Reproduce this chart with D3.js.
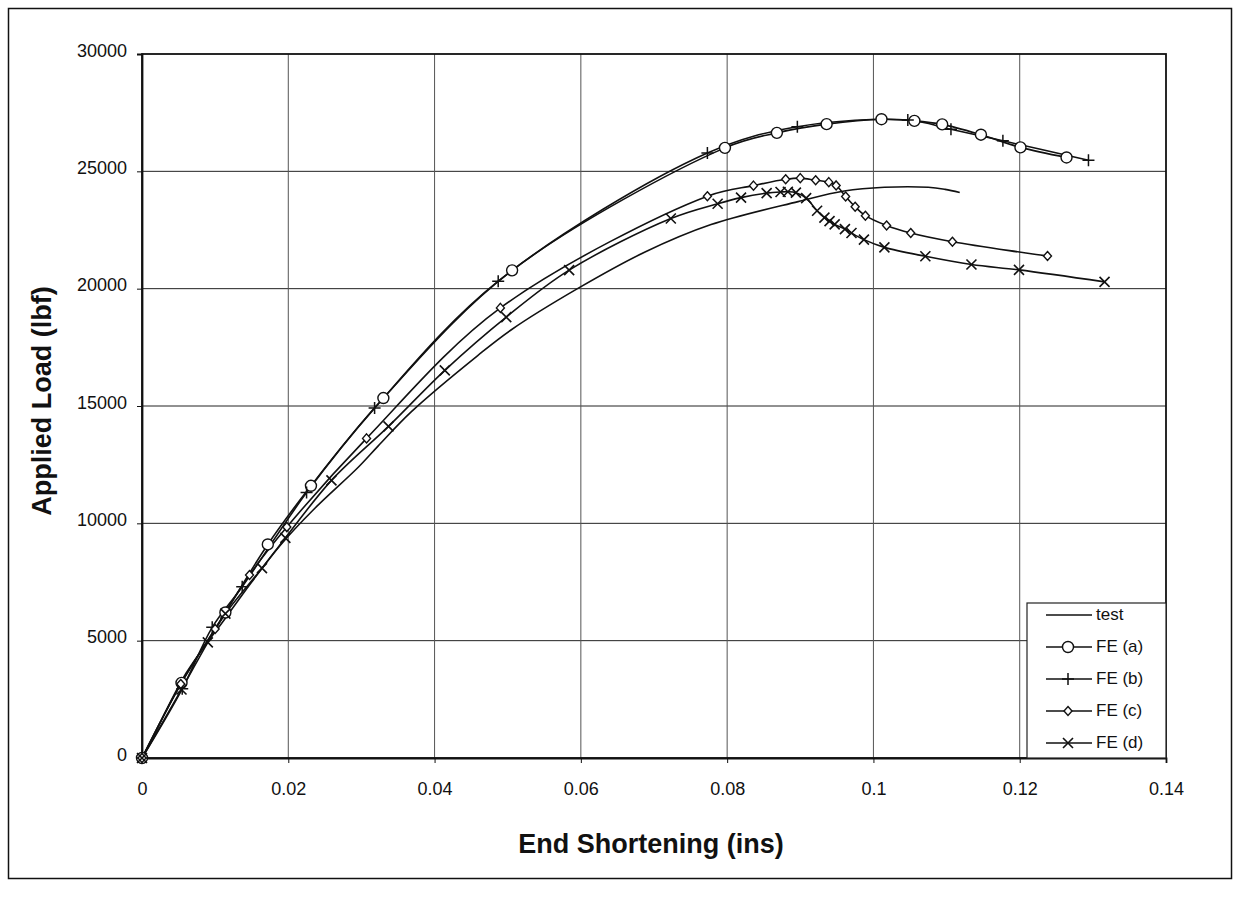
<!DOCTYPE html>
<html>
<head>
<meta charset="utf-8">
<script src="https://cdn.jsdelivr.net/npm/d3@7"></script>
<style>
  body { margin: 0; background: #fff; }
  text { font-family: Arial, "Liberation Sans", Helvetica, sans-serif; fill: #111; }
</style>
</head>
<body>
<div id="chart"></div>
<script>
// values
var testX = [0, 0.0012, 0.006, 0.0115, 0.015, 0.019, 0.0235, 0.0296, 0.0323, 0.0368, 0.0459, 0.0505, 0.0596, 0.0687, 0.0778, 0.0897, 0.096, 0.1015, 0.1075, 0.1098, 0.1118];
var testY = [0, 700, 3600, 6000, 7500, 9100, 10600, 12400, 13300, 14750, 17150, 18250, 20010, 21550, 22730, 23710, 24160, 24320, 24320, 24230, 24100];

var feaX = [0, 0.0054, 0.0114, 0.0172, 0.0231, 0.033, 0.0506, 0.0797, 0.0868, 0.0936, 0.1011, 0.1056, 0.1094, 0.1147, 0.1201, 0.1264];
var feaY = [0, 3200, 6200, 9100, 11600, 15340, 20780, 26000, 26640, 27010, 27220, 27150, 27000, 26560, 26020, 25590];

var febX = [0, 0.0055, 0.0096, 0.0137, 0.0225, 0.0318, 0.0487, 0.0773, 0.0896, 0.1047, 0.1106, 0.1177, 0.1294];
var febY = [0, 2950, 5570, 7300, 11310, 14910, 20320, 25780, 26900, 27190, 26790, 26300, 25470];

var fecX = [0, 0.0053, 0.01, 0.0147, 0.0198, 0.0307, 0.049, 0.0773, 0.0836, 0.088, 0.09, 0.0921, 0.0939, 0.0949, 0.0962, 0.0975, 0.0989, 0.1018, 0.1051, 0.1108, 0.1238];
var fecY = [0, 3150, 5500, 7800, 9840, 13620, 19180, 23940, 24390, 24660, 24710, 24620, 24540, 24400, 23930, 23490, 23110, 22690, 22370, 22000, 21390];

var fedX = [0, 0.0054, 0.009, 0.0114, 0.0164, 0.0196, 0.0259, 0.0337, 0.0414, 0.0498, 0.0584, 0.0723, 0.0787, 0.0819, 0.0854, 0.0873, 0.0883, 0.0894, 0.0908, 0.0923, 0.0933, 0.094, 0.0947, 0.0961, 0.097, 0.0987, 0.1015, 0.1071, 0.1134, 0.1199, 0.1316];
var fedY = [0, 2920, 4930, 6150, 8090, 9380, 11830, 14130, 16520, 18790, 20790, 22990, 23620, 23880, 24070, 24120, 24130, 24090, 23860, 23320, 23030, 22880, 22740, 22540, 22370, 22090, 21760, 21380, 21030, 20800, 20290];

var xTicks = [0, 0.02, 0.04, 0.06, 0.08, 0.1, 0.12, 0.14];
var xTickLabels = ["0", "0.02", "0.04", "0.06", "0.08", "0.1", "0.12", "0.14"];
var yTicks = [0, 5000, 10000, 15000, 20000, 25000, 30000];

var seriesNames = ["test", "FE (a)", "FE (b)", "FE (c)", "FE (d)"];
var seriesMarks = ["none", "circle", "plus", "diamond", "cross"];

var width = 1241, height = 913;

var svg = d3.select("#chart").append("svg")
    .attr("width", width)
    .attr("height", height);

// outer frame
svg.append("rect")
    .attr("x", 8.5).attr("y", 8.5)
    .attr("width", 1223).attr("height", 870)
    .attr("fill", "none")
    .attr("stroke", "#111")
    .attr("stroke-width", 1.5);

var x = d3.scaleLinear().domain([0, 0.14]).range([142, 1166]);
var y = d3.scaleLinear().domain([0, 30000]).range([758, 54]);

// grid
svg.append("g").selectAll("line")
    .data(yTicks.slice(1, -1))
    .enter().append("line")
    .attr("x1", x(0)).attr("x2", x(0.14))
    .attr("y1", d => y(d)).attr("y2", d => y(d))
    .attr("stroke", "#222")
    .attr("stroke-width", 1);

svg.append("g").selectAll("line")
    .data(xTicks.slice(1, -1))
    .enter().append("line")
    .attr("x1", d => x(d)).attr("x2", d => x(d))
    .attr("y1", y(0)).attr("y2", y(30000))
    .attr("stroke", "#555")
    .attr("stroke-width", 1);

// plot border
svg.append("rect")
    .attr("x", x(0)).attr("y", y(30000))
    .attr("width", x(0.14) - x(0))
    .attr("height", y(0) - y(30000))
    .attr("fill", "none")
    .attr("stroke", "#111")
    .attr("stroke-width", 1.8);

var xAxis = svg.append("g")
    .attr("transform", "translate(0," + y(0) + ")")
    .call(d3.axisBottom(x).tickValues(xTicks).tickSize(5).tickPadding(19)
        .tickFormat((d, i) => xTickLabels[i]));

var yAxis = svg.append("g")
    .attr("transform", "translate(" + x(0) + ",0)")
    .call(d3.axisLeft(y).tickValues(yTicks).tickSize(5).tickPadding(10)
        .tickFormat(d3.format("d")));

[xAxis, yAxis].forEach(a => {
  a.select(".domain").attr("stroke", "#111").attr("stroke-width", 1.8);
  a.selectAll(".tick line").attr("stroke", "#111");
  a.selectAll(".tick text")
      .style("font-family", "Arial, 'Liberation Sans', sans-serif")
      .style("font-size", "18px")
      .attr("fill", "#111");
});
yAxis.selectAll(".tick text").attr("dy", "0.12em");

// axis titles
svg.append("text")
    .attr("x", 651).attr("y", 853)
    .attr("text-anchor", "middle")
    .style("font-size", "27px")
    .style("font-weight", "bold")
    .text("End Shortening (ins)");

svg.append("text")
    .attr("transform", "translate(51,401) rotate(-90)")
    .attr("text-anchor", "middle")
    .style("font-size", "27px")
    .style("font-weight", "bold")
    .text("Applied Load (lbf)");

// lines
var line = d3.line()
    .x(d => x(d[0]))
    .y(d => y(d[1]))
    .curve(d3.curveCatmullRom.alpha(0.5));

var series = [
  {name: seriesNames[0], mark: seriesMarks[0], pts: testX.map((v, i) => [v, testY[i]])},
  {name: seriesNames[1], mark: seriesMarks[1], pts: feaX.map((v, i) => [v, feaY[i]])},
  {name: seriesNames[2], mark: seriesMarks[2], pts: febX.map((v, i) => [v, febY[i]])},
  {name: seriesNames[3], mark: seriesMarks[3], pts: fecX.map((v, i) => [v, fecY[i]])},
  {name: seriesNames[4], mark: seriesMarks[4], pts: fedX.map((v, i) => [v, fedY[i]])}
];

svg.append("g").selectAll("path")
    .data(series)
    .enter().append("path")
    .attr("d", d => line(d.pts))
    .attr("fill", "none")
    .attr("stroke", "#111")
    .attr("stroke-width", 1.6);

function drawMarker(g, type, cx, cy) {
  if (type == "circle") {
    g.append("circle")
        .attr("cx", cx).attr("cy", cy).attr("r", 5.5)
        .attr("fill", "#fff").attr("stroke", "#111").attr("stroke-width", 1.4);
  } else if (type == "plus") {
    g.append("path")
        .attr("d", "M" + (cx - 6) + "," + cy + "H" + (cx + 6) + "M" + cx + "," + (cy - 6) + "V" + (cy + 6))
        .attr("stroke", "#111").attr("stroke-width", 1.5);
  } else if (type == "diamond") {
    g.append("path")
        .attr("d", "M" + cx + "," + (cy - 4.5) + "L" + (cx + 4) + "," + cy + "L" + cx + "," + (cy + 4.5) + "L" + (cx - 4) + "," + cy + "Z")
        .attr("fill", "#fff").attr("stroke", "#111").attr("stroke-width", 1.4);
  } else if (type == "cross") {
    g.append("path")
        .attr("d", "M" + (cx - 5) + "," + (cy - 5) + "L" + (cx + 5) + "," + (cy + 5) + "M" + (cx - 5) + "," + (cy + 5) + "L" + (cx + 5) + "," + (cy - 5))
        .attr("stroke", "#111").attr("stroke-width", 1.6);
  }
}

var markG = svg.append("g");
series.forEach(s => {
  if (s.mark == "none") return;
  s.pts.forEach(p => drawMarker(markG, s.mark, x(p[0]), y(p[1])));
});

// legend
var legend = svg.append("g");
legend.append("rect")
    .attr("x", 1027).attr("y", 603)
    .attr("width", 139).attr("height", 155)
    .attr("fill", "#fff")
    .attr("stroke", "#222")
    .attr("stroke-width", 1.2);

var rowY = d3.scalePoint().domain(seriesNames).range([615, 743]);

series.forEach(s => {
  var ry = rowY(s.name);
  legend.append("line")
      .attr("x1", 1046).attr("x2", 1092)
      .attr("y1", ry).attr("y2", ry)
      .attr("stroke", "#111").attr("stroke-width", 1.6);
  drawMarker(legend, s.mark, 1068, ry);
  legend.append("text")
      .attr("x", 1096).attr("y", ry)
      .attr("dy", "0.3em")
      .style("font-size", "17px")
      .text(s.name);
});
</script>
</body>
</html>
